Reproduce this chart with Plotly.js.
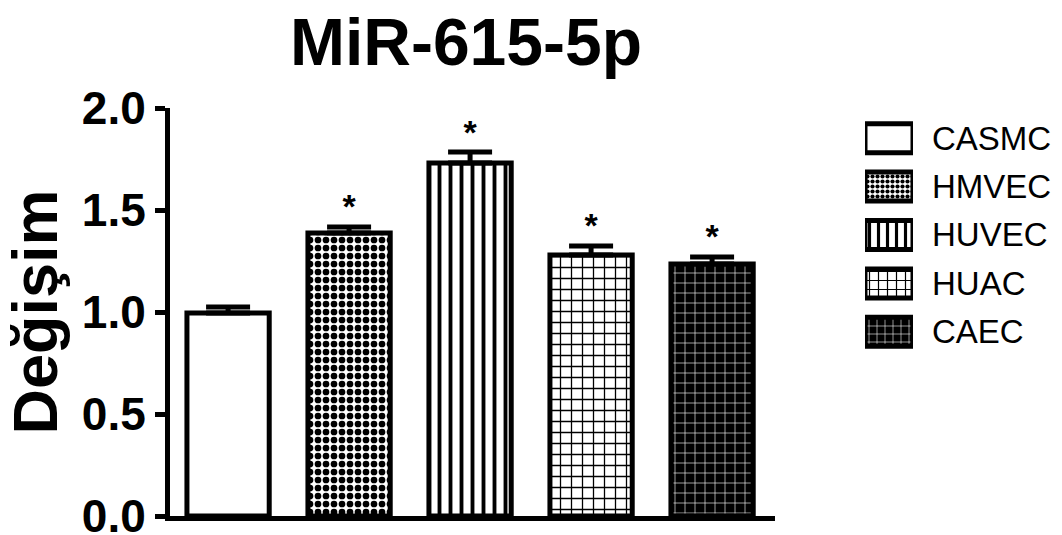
<!DOCTYPE html>
<html>
<head>
<meta charset="utf-8">
<script src="https://cdn.plot.ly/plotly-3.0.1.min.js"></script>
<style>html,body{margin:0;padding:0;background:#fff;}#chart{width:1062px;height:535px;}</style>
</head>
<body>
<div id="chart"></div>
<script>
// ---- data ----
const categories = ["CASMC", "HMVEC", "HUVEC", "HUAC", "CAEC"];
const values = [0.995, 1.387, 1.73, 1.279, 1.235];
const errors = [0.03, 0.03, 0.054, 0.045, 0.035];
const stars = ["", "*", "*", "*", "*"];
const yTicks = [0, 0.5, 1.0, 1.5, 2.0];
const yTickText = ["0.0", "0.5", "1.0", "1.5", "2.0"];

// ---- styles ----
const W = 1062, H = 535;
const FONT = "Liberation Sans, Arial, Helvetica, sans-serif";
const mainPatterns = {
  shape: ["", ".", "|", "+", "+"],
  bgcolor: ["white", "white", "white", "white", "black"],
  fgcolor: ["black", "black", "black", "black", "white"],
  size: [8, 8, 11, 11, 10],
  solidity: [0.3, 0.55, 0.35, 0.22, 0.12],
  fillmode: "replace"
};
const legendPatterns = {
  shape: ["", ".", "|", "+", "+"],
  bgcolor: ["white", "white", "white", "white", "black"],
  fgcolor: ["black", "black", "black", "black", "white"],
  size: [6, 5, 9, 9, 8],
  solidity: [0.3, 0.55, 0.35, 0.25, 0.14],
  fillmode: "replace"
};

const barTrace = {
  type: "bar",
  x: categories,
  y: values,
  width: 0.68,
  marker: { color: "white", line: { color: "black", width: 5 }, pattern: mainPatterns },
  error_y: { type: "data", array: errors, arrayminus: errors.map(() => 0), symmetric: false,
             color: "black", thickness: 5, width: 22 },
  showlegend: false,
  hoverinfo: "skip"
};

const starTrace = {
  type: "scatter",
  mode: "text",
  x: categories,
  y: values.map((v, i) => v + errors[i]),
  text: stars,
  textposition: "top center",
  textfont: { family: FONT, size: 34, color: "black", weight: "bold" },
  cliponaxis: false,
  showlegend: false,
  hoverinfo: "skip"
};

const legendTrace = {
  type: "bar",
  orientation: "h",
  y: categories,
  x: categories.map(() => 1),
  xaxis: "x2",
  yaxis: "y2",
  width: 0.6,
  marker: { color: "white", line: { color: "black", width: 5 }, pattern: legendPatterns },
  showlegend: false,
  hoverinfo: "skip"
};

const px = (x) => x / W;
const py = (y) => 1 - y / H;

// legend row geometry
const rowTop = 114, rowBottom = 356;
const rowStep = (rowBottom - rowTop) / categories.length;

const annotations = categories.map((c, i) => ({
  xref: "paper", yref: "paper",
  x: px(930), y: py(rowTop + rowStep * (i + 0.5)),
  xanchor: "left", yanchor: "middle",
  text: c, showarrow: false,
  font: { family: FONT, size: 33, color: "black" }
}));

const layout = {
  width: W, height: H,
  margin: { l: 0, r: 0, t: 0, b: 0 },
  paper_bgcolor: "white",
  plot_bgcolor: "white",
  title: {
    text: "MiR-615-5p",
    font: { family: FONT, size: 66, color: "black", weight: "bold" },
    x: px(466), xanchor: "center",
    y: py(42), yanchor: "middle",
    xref: "paper", yref: "paper"
  },
  xaxis: {
    type: "category",
    domain: [px(170), px(775)],
    range: [-0.48, 4.52],
    showline: true, linecolor: "black", linewidth: 5,
    showticklabels: false, ticks: "",
    showgrid: false, zeroline: false, fixedrange: true
  },
  yaxis: {
    domain: [py(516), py(108)],
    range: [0, 2],
    tickvals: yTicks, ticktext: yTickText,
    ticks: "outside", ticklen: 10, tickwidth: 5, tickcolor: "black",
    ticklabeloverflow: "allow",
    showline: true, linecolor: "black", linewidth: 5,
    showgrid: false, zeroline: false,
    tickfont: { family: FONT, size: 46, color: "black", weight: "bold" },
    title: { text: "Değişim", standoff: 10,
             font: { family: FONT, size: 63, color: "black", weight: "bold" } },
    fixedrange: true
  },
  xaxis2: {
    domain: [px(865), px(913)],
    range: [0, 1],
    anchor: "y2",
    visible: false, fixedrange: true
  },
  yaxis2: {
    type: "category",
    domain: [py(rowBottom), py(rowTop)],
    range: [categories.length - 0.5, -0.5],
    anchor: "x2",
    visible: false, fixedrange: true
  },
  annotations: annotations,
  showlegend: false
};

Plotly.newPlot("chart", [barTrace, starTrace, legendTrace], layout, { staticPlot: true, displayModeBar: false });
</script>
</body>
</html>
